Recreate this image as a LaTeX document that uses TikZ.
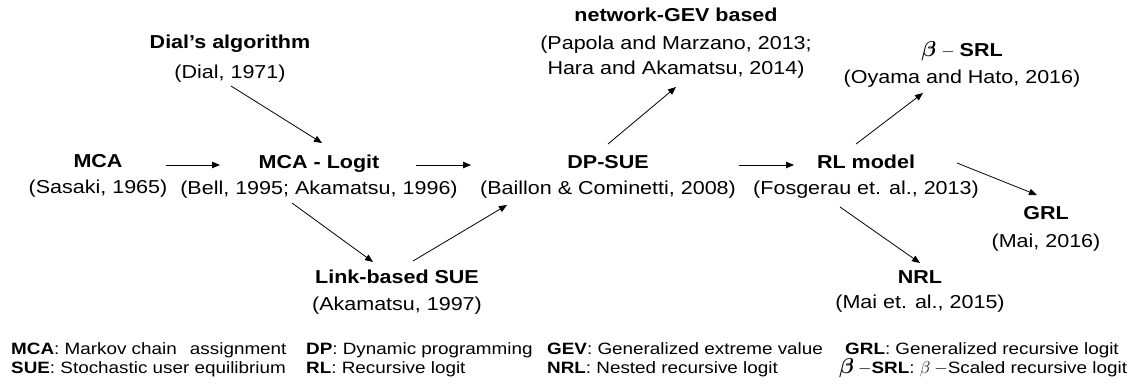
\documentclass[tikz,border=0pt]{standalone}
\usepackage{fontspec}
\usepackage{bm}
\setmainfont{Liberation Sans}[FakeStretch=1.15]
\usetikzlibrary{calc,arrows.meta}

% larger bold-italic beta used in titles and key
\newcommand{\bigbeta}{\scalebox{1.25}{$\bm{\beta}$}}

\tikzset{
  concept/.style={align=center, inner sep=0pt, font=\fontsize{18.7}{25}\selectfont},
  legend/.style={anchor=base west, inner sep=0pt, font=\fontsize{16.4}{19}\selectfont},
  arr/.style={-{Triangle[length=8pt,width=6.5pt]}, line width=0.8pt, black}
}

\begin{document}
\begin{tikzpicture}[x=1pt,y=-1pt]
\useasboundingbox (0,0) rectangle (1145,385);

% concepts
\node[concept] (mca)   at (98,176)  {\textbf{MCA}\\[1pt](Sasaki, 1965)};
\node[concept] (dial)  at (230,59)  {\textbf{Dial’s algorithm}\\[5pt](Dial, 1971)};
\node[concept] (logit) at (319,177) {\textbf{MCA - Logit}\\[1pt](Bell, 1995; Akamatsu, 1996)};
\node[concept] (link)  at (397,292) {\textbf{Link-based SUE}\\[2pt](Akamatsu, 1997)};
\node[concept] (dp)    at (608,177) {\textbf{DP-SUE}\\[1pt](Baillon \& Cominetti, 2008)};
\node[concept] (gev)   at (676,43)  {\textbf{network-GEV based}\\[3pt](Papola and Marzano, 2013;\\Hara and Akamatsu, 2014)};
\node[concept] (rl)    at (866,177) {\textbf{RL model}\\[1pt](Fosgerau et. al., 2013)};
\node[concept] (srl)   at (962,64)  {\bigbeta\hspace{5pt}$-$\hspace{5pt}\textbf{SRL}\\[2pt](Oyama and Hato, 2016)};
\node[concept] (grl)   at (1046,229){\textbf{GRL}\\[3pt](Mai, 2016)};
\node[concept] (nrl)   at (920,292) {\textbf{NRL}\\(Mai et. al., 2015)};

% connectors
\draw[arr] ($(mca)+(68,-11)$)   -- ($(logit)+(-99,-12)$);
\draw[arr] ($(dial)+(1,27)$)    -- ($(logit)+(3,-34)$);
\draw[arr] ($(logit)+(97,-12)$) -- ($(dp)+(-137,-12)$);
\draw[arr] ($(logit)+(-27,26)$) -- ($(link)+(-24,-30)$);
\draw[arr] ($(link)+(16,-31)$)  -- ($(dp)+(-101,28)$);
\draw[arr] ($(dp)+(0,-33)$)     -- ($(gev)+(0,44)$);
\draw[arr] ($(dp)+(131,-12)$)   -- ($(rl)+(-72,-12)$);
\draw[arr] ($(rl)+(-10,-33)$)   -- ($(srl)+(-39,29)$);
\draw[arr] ($(rl)+(91,-14)$)    -- ($(grl)+(-9,-34)$);
\draw[arr] ($(rl)+(-26,30)$)    -- ($(nrl)+(0,-29)$);

% abbreviations
\node[legend] (k1) at (11,354)  {\textbf{MCA}: Markov chain\hspace{8pt} assignment};
\node[legend] (k2) at (11,373)  {\textbf{SUE}: Stochastic user equilibrium};
\node[legend] (k3) at (306,354) {\textbf{DP}: Dynamic programming};
\node[legend] (k4) at (306,373) {\textbf{RL}: Recursive logit};
\node[legend] (k5) at (547,354) {\textbf{GEV}: Generalized extreme value};
\node[legend] (k6) at (547,373) {\textbf{NRL}: Nested recursive logit};
\node[legend] (k7) at (845,354) {\textbf{GRL}: Generalized recursive logit};
\node[legend] (k8) at (839,373) {\bigbeta\hspace{4pt}$-$\textbf{SRL}: $\beta$\hspace{4pt}$-$Scaled recursive logit};
\end{tikzpicture}
\end{document}
